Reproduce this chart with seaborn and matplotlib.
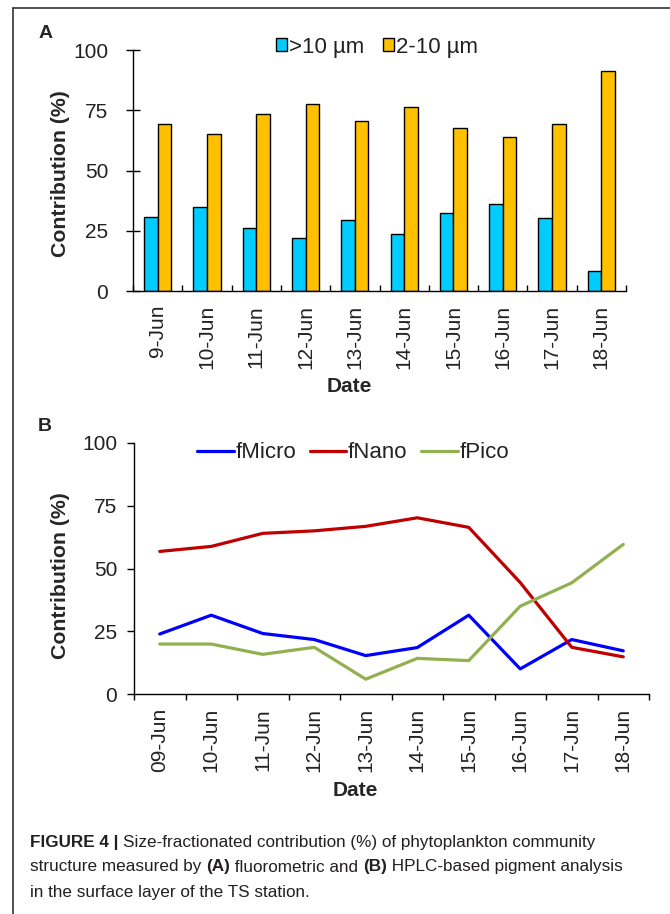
import numpy as np
import pandas as pd
import matplotlib
matplotlib.use("Agg")
import matplotlib.pyplot as plt
import seaborn as sns
from matplotlib.lines import Line2D
from matplotlib.patches import Patch

# ---------------- data ----------------
dates_a = ["9-Jun", "10-Jun", "11-Jun", "12-Jun", "13-Jun",
           "14-Jun", "15-Jun", "16-Jun", "17-Jun", "18-Jun"]
series_a = [">10 µm", "2-10 µm"]
micro_a = [30.5, 34.8, 26.2, 21.9, 29.5, 23.8, 32.4, 36.0, 30.2, 8.4]
nano_a = [69.3, 65.0, 73.5, 77.6, 70.4, 76.2, 67.5, 63.9, 69.3, 91.4]

dates_b = ["09-Jun", "10-Jun", "11-Jun", "12-Jun", "13-Jun",
           "14-Jun", "15-Jun", "16-Jun", "17-Jun", "18-Jun"]
series_b = ["fMicro", "fNano", "fPico"]
f_micro = [23.9, 31.4, 24.1, 21.7, 15.3, 18.5, 31.4, 10.0, 21.7, 17.2]
f_nano = [56.8, 58.8, 64.0, 65.0, 66.8, 70.2, 66.4, 44.4, 18.6, 14.8]
f_pico = [19.9, 19.9, 15.8, 18.6, 5.9, 14.2, 13.3, 35.0, 44.3, 59.6]

yticks = [0, 25, 50, 75, 100]
ylabel = "Contribution (%)"
xlabel = "Date"

colors_a = ["#00CCFF", "#FFC000"]
colors_b = ["#0000FF", "#C00000", "#92B050"]

# ---------------- style ----------------
sns.set_theme(style="white")
plt.rcParams["font.family"] = ["Liberation Sans", "DejaVu Sans"]

W, H = 670, 914
fig = plt.figure(figsize=(W / 100, H / 100), dpi=100)
fig.patch.set_facecolor("white")


def ax_rect(x0, x1, ytop, ybot):
    return [x0 / W, 1 - ybot / H, (x1 - x0) / W, (ybot - ytop) / H]


axA = fig.add_axes(ax_rect(133, 626, 50, 291))
axB = fig.add_axes(ax_rect(134, 649, 443, 694))

TICK_FS = 15
YLAB_FS = 15.3

# ---------------- panel A ----------------
dfA = pd.DataFrame({
    "Date": dates_a * 2,
    "value": micro_a + nano_a,
    "series": [series_a[0]] * len(dates_a) + [series_a[1]] * len(dates_a),
})
sns.barplot(data=dfA, x="Date", y="value", hue="series", hue_order=series_a,
            order=dates_a, palette=colors_a, saturation=1, width=0.55,
            edgecolor="black", linewidth=1.0, errorbar=None, ax=axA)

axA.set_xlim(-0.5, len(dates_a) - 0.5)
axA.set_ylim(0, 100)
axA.set_yticks(yticks)
for s in ["top", "right"]:
    axA.spines[s].set_visible(False)
for s in ["left", "bottom"]:
    axA.spines[s].set_color("black")
    axA.spines[s].set_linewidth(1.0)
axA.tick_params(axis="y", direction="inout", length=9.5, width=1.0,
                color="black", labelsize=TICK_FS, labelcolor="#222222",
                pad=13, left=True)
axA.set_xticks(np.arange(-0.5, len(dates_a)), minor=True)
axA.tick_params(axis="x", which="minor", direction="in", length=4.5,
                width=1.0, color="black", bottom=True)
axA.tick_params(axis="x", which="major", length=0, labelsize=TICK_FS,
                labelcolor="#222222", labelrotation=90, pad=10)
axA.set_ylabel(ylabel, fontsize=YLAB_FS, fontweight="bold")
axA.yaxis.label.set_va("center")
axA.yaxis.set_label_coords((60 - 133) / 493, (291 - 174) / 241)
axA.set_xlabel(xlabel, fontsize=15, fontweight="bold")
axA.xaxis.label.set_va("center")
axA.xaxis.set_label_coords((349 - 133) / 493, -(386 - 291) / 241)

handlesA = [Patch(facecolor=c, edgecolor="black", linewidth=1.0) for c in colors_a]
axA.legend(handles=handlesA, labels=series_a, ncol=2, loc="center",
           bbox_to_anchor=((377 - 133) / 493, (291 - 47) / 241),
           frameon=False, fontsize=16, labelcolor="#222222",
           handlelength=0.5, handleheight=0.5, handletextpad=0.12,
           columnspacing=0.8, borderpad=0)

# ---------------- panel B ----------------
dfB = pd.DataFrame({
    "Date": dates_b * 3,
    "value": f_micro + f_nano + f_pico,
    "series": sum([[s] * len(dates_b) for s in series_b], []),
})
sns.lineplot(data=dfB, x="Date", y="value", hue="series", hue_order=series_b,
             palette=colors_b, linewidth=2.3, sort=False, ax=axB)

axB.set_xlim(-0.5, len(dates_b) - 0.5)
axB.set_ylim(0, 100)
axB.set_yticks(yticks)
for s in ["top", "right"]:
    axB.spines[s].set_visible(False)
for s in ["left", "bottom"]:
    axB.spines[s].set_color("black")
    axB.spines[s].set_linewidth(1.0)
axB.tick_params(axis="y", direction="out", length=5, width=1.0,
                color="black", labelsize=TICK_FS, labelcolor="#222222",
                pad=7, left=True)
axB.set_xticks(np.arange(-0.5, len(dates_b)), minor=True)
axB.tick_params(axis="x", which="minor", direction="out", length=4.5,
                width=1.0, color="black", bottom=True)
axB.tick_params(axis="x", which="major", length=0, labelsize=TICK_FS,
                labelcolor="#222222", labelrotation=90, pad=10)
axB.set_ylabel(ylabel, fontsize=YLAB_FS, fontweight="bold")
axB.yaxis.label.set_va("center")
axB.yaxis.set_label_coords((60 - 134) / 515, (694 - 576) / 251)
axB.set_xlabel(xlabel, fontsize=15, fontweight="bold")
axB.xaxis.label.set_va("center")
axB.xaxis.set_label_coords((355 - 134) / 515, -(790 - 694) / 251)

handlesB = [Line2D([], [], color=c, linewidth=2.3) for c in colors_b]
axB.legend(handles=handlesB, labels=series_b, ncol=3, loc="center",
           bbox_to_anchor=((353 - 134) / 515, (694 - 453) / 251),
           frameon=False, fontsize=16, labelcolor="#222222",
           handlelength=1.65, handletextpad=0.08,
           columnspacing=0.6, borderpad=0)

# ---------------- panel letters ----------------
fig.text(46 / W, 1 - 34 / H, "A", fontsize=14, fontweight="bold",
         ha="center", va="center")
fig.text(45 / W, 1 - 426 / H, "B", fontsize=14, fontweight="bold",
         ha="center", va="center")

# ---------------- frame lines ----------------
fig.add_artist(Line2D([13 / W, 1.0], [1 - 8 / H, 1 - 8 / H],
                      transform=fig.transFigure, color="#333333", linewidth=1.2))
fig.add_artist(Line2D([13 / W, 13 / W], [1 - 8 / H, 0.0],
                      transform=fig.transFigure, color="#333333", linewidth=1.2))

# ---------------- caption ----------------
renderer = fig.canvas.get_renderer()


def rich_line(x_px, y_px, parts, size=12.3):
    x = x_px / W
    for txt, weight in parts:
        t = fig.text(x, 1 - y_px / H, txt, fontsize=size, fontweight=weight,
                     ha="left", va="center", color="#231f20")
        bb = t.get_window_extent(renderer)
        x += bb.width / fig.bbox.width


rich_line(30, 842, [("FIGURE 4 | ", "bold"),
                    ("Size-fractionated contribution (%) of phytoplankton community", "normal")])
rich_line(30, 867, [("structure measured by ", "normal"), ("(A)", "bold"),
                    (" fluorometric and ", "normal"), ("(B)", "bold"),
                    (" HPLC-based pigment analysis", "normal")])
rich_line(30, 892, [("in the surface layer of the TS station.", "normal")])

fig.savefig("out.png", dpi=100, facecolor="white")
